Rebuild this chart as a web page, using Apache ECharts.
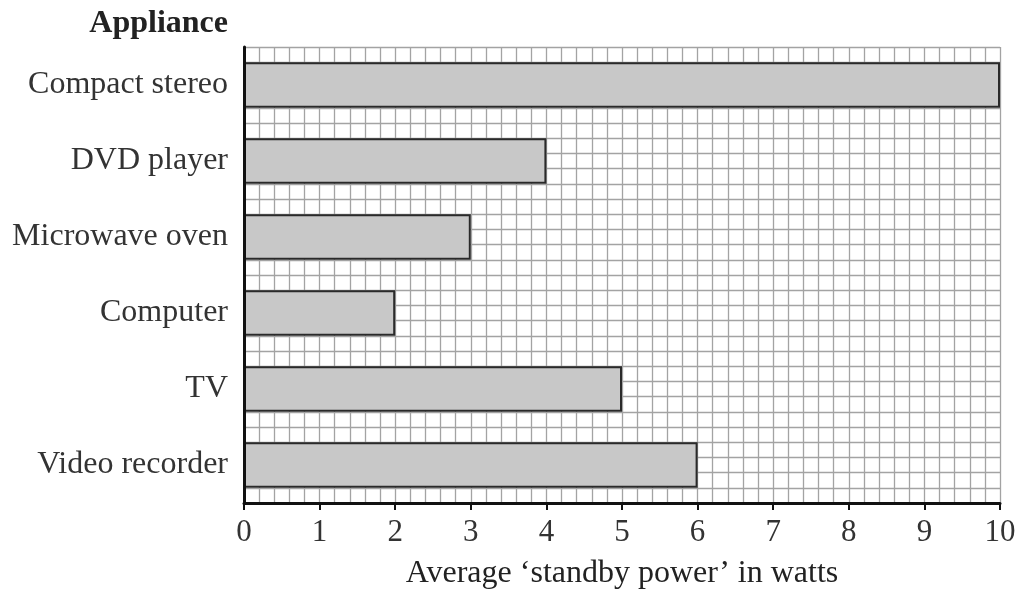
<!DOCTYPE html>
<html>
<head>
<meta charset="utf-8">
<script src="https://cdn.jsdelivr.net/npm/echarts@6/dist/echarts.min.js"></script>
<style>
  html, body { margin: 0; padding: 0; background: #fff; }
  #chart { width: 1021px; height: 590px; }
</style>
</head>
<body>
<div id="chart"></div>
<script>
// Appliances, top to bottom
const appliances = ['Compact stereo', 'DVD player', 'Microwave oven', 'Computer', 'TV', 'Video recorder'];
// Average standby power in watts
const standbyWatts = [10, 4, 3, 2, 5, 6];
const xTicks = [0, 1, 2, 3, 4, 5, 6, 7, 8, 9, 10];

const FONT = '"Liberation Serif", "Times New Roman", serif';
const GRID_COLOR = '#a3a3a3';

const chart = echarts.init(document.getElementById('chart'), null, { renderer: 'canvas' });

chart.setOption({
  animation: false,
  backgroundColor: '#fff',
  title: {
    text: 'Appliance',
    right: 1021 - 228,
    top: 8,
    padding: 0,
    textStyle: { fontFamily: FONT, fontSize: 32, fontWeight: 'bold', color: '#222' }
  },
  grid: { left: 244, right: 21, top: 47, bottom: 87, containLabel: false, outerBoundsMode: 'none' },
  xAxis: {
    type: 'value',
    min: xTicks[0],
    max: xTicks[xTicks.length - 1],
    interval: 1,
    name: 'Average \u2018standby power\u2019 in watts',
    nameLocation: 'middle',
    nameGap: 55,
    nameTextStyle: { fontFamily: FONT, fontSize: 32, lineHeight: 32, color: '#222' },
    axisLine: { show: true, onZero: false, lineStyle: { color: '#111', width: 3 } },
    axisTick: { show: true, length: 7, lineStyle: { color: '#111', width: 2 } },
    axisLabel: { fontFamily: FONT, fontSize: 31, color: '#333', margin: 14 },
    splitLine: { show: true, lineStyle: { color: GRID_COLOR, width: 1.3 } },
    minorTick: { show: false, splitNumber: 5 },
    minorSplitLine: { show: true, lineStyle: { color: GRID_COLOR, width: 1.3 } }
  },
  yAxis: [
    {
      type: 'category',
      data: appliances,
      inverse: true,
      axisLine: { show: true, lineStyle: { color: '#111', width: 3 } },
      axisTick: { show: false },
      axisLabel: { fontFamily: FONT, fontSize: 32, color: '#333', margin: 16 },
      splitLine: { show: false },
      z: 5
    },
    {
      // fine horizontal ruling: five rows per appliance band
      type: 'value',
      min: 0,
      max: appliances.length * 5,
      interval: 1,
      show: true,
      position: 'right',
      axisLine: { show: false },
      axisTick: { show: false },
      axisLabel: { show: false },
      splitLine: { show: true, lineStyle: { color: GRID_COLOR, width: 1.3 } }
    }
  ],
  series: [
    {
      type: 'bar',
      yAxisIndex: 0,
      data: standbyWatts,
      barWidth: '60%',
      itemStyle: { color: '#c8c8c8', borderColor: '#2a2a2a', borderWidth: 2 },
      z: 3
    }
  ]
});
</script>
</body>
</html>
